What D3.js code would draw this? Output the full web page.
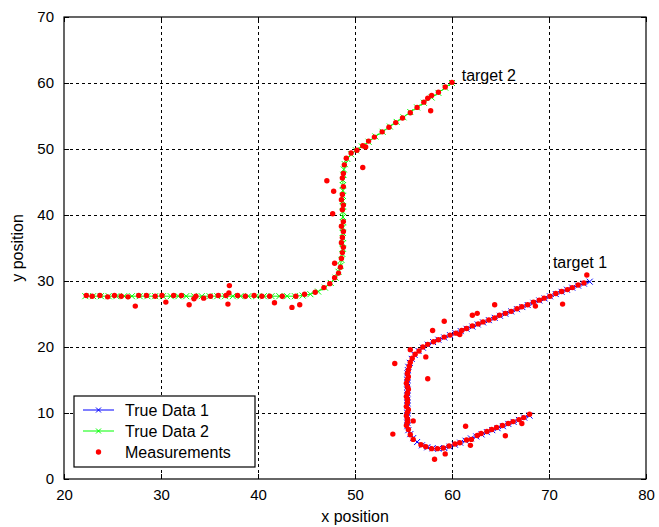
<!DOCTYPE html>
<html>
<head>
<meta charset="utf-8">
<script src="https://cdn.jsdelivr.net/npm/d3@7"></script>
<style>
  html, body { margin: 0; padding: 0; background: #fff; }
  svg text { font-family: "Liberation Sans", Arial, sans-serif; fill: #000; }
</style>
</head>
<body>
<svg id="chart" width="659" height="527"></svg>
<script>
// Axis ticks
const xTicks = [20, 30, 40, 50, 60, 70, 80];
const yTicks = [0, 10, 20, 30, 40, 50, 60, 70];

// Track of target 1 (true positions)
const trueData1 = [
  [68.0,9.6],[67.45,9.3],[66.9,8.95],[66.35,8.65],[65.8,8.35],[65.25,8.0],[64.7,7.7],[64.15,7.4],
  [63.6,7.1],[63.05,6.75],[62.5,6.45],[61.95,6.15],[61.4,5.8],[60.85,5.5],[60.3,5.2],[59.75,4.9],
  [59.2,4.7],[58.6,4.6],[58.0,4.65],[57.45,4.8],[56.9,5.1],[56.4,5.6],[56.0,6.2],[55.7,6.8],[55.5,7.4],
  [55.4,8.0],[55.4,8.5],[55.4,9.0],[55.4,9.5],[55.4,10.0],[55.4,10.5],[55.4,11.0],[55.4,11.5],
  [55.4,12.0],[55.4,12.5],[55.4,13.0],[55.4,13.5],[55.4,14.0],[55.4,14.5],[55.4,15.0],[55.4,15.5],
  [55.4,16.0],[55.45,16.5],[55.5,17.0],
  [55.65,17.6],[55.85,18.2],[56.15,18.8],[56.55,19.4],[57.0,19.9],[57.5,20.35],[58.05,20.75],
  [58.6,21.1],[59.2,21.44],[59.8,21.79],[60.35,22.1],[60.9,22.41],[61.5,22.76],[62.1,23.1],
  [62.65,23.42],[63.2,23.73],[63.8,24.07],[64.4,24.42],[64.95,24.73],[65.5,25.05],[66.1,25.39],
  [66.7,25.73],[67.25,26.05],[67.8,26.36],[68.4,26.7],[69.0,27.05],[69.55,27.36],[70.1,27.68],
  [70.7,28.02],[71.3,28.36],[71.85,28.68],[72.4,28.99],[73.0,29.3],[73.6,29.6],[74.2,29.9]
];

// Track of target 2 (true positions)
const trueData2 = [
  [22.2,27.7],[23.0,27.7],[23.8,27.7],[24.6,27.7],[25.4,27.7],[26.2,27.7],[27.0,27.7],[27.8,27.7],
  [28.6,27.7],[29.4,27.7],[30.2,27.7],[31.0,27.7],[31.8,27.7],[32.6,27.7],[33.4,27.7],[34.2,27.7],
  [35.0,27.7],[35.8,27.7],[36.6,27.7],[37.4,27.7],[38.2,27.7],[39.0,27.7],[39.8,27.7],[40.6,27.7],
  [41.4,27.7],[42.2,27.7],[43.0,27.7],[43.8,27.7],[44.6,27.8],
  [45.4,28.0],[46.2,28.4],[46.9,29.0],[47.5,29.7],[48.0,30.5],[48.3,31.4],[48.5,32.3],[48.6,33.2],[48.7,34.1],
  [48.75,34.9],[48.75,35.7],[48.75,36.5],[48.75,37.3],[48.75,38.1],[48.75,38.9],[48.75,39.7],
  [48.75,40.5],[48.75,41.3],[48.75,42.1],[48.75,42.9],[48.75,43.7],[48.75,44.5],[48.75,45.3],
  [48.8,46.1],[48.85,46.9],[48.95,47.7],
  [49.2,48.5],[49.6,49.2],[50.1,49.8],[50.7,50.4],
  [51.4,51.1],[52.1,51.9],[52.85,52.6],[53.6,53.4],[54.3,54.1],[55.0,54.8],[55.7,55.6],
  [56.4,56.3],[57.1,57.0],[57.9,57.8],[58.6,58.5],[59.3,59.3],[60.0,60.0]
];

// Noisy position measurements of both targets
const measurements1 = [
  [68.0,9.8],[67.4,9.3],[67.2,8.4],[66.9,9.0],[66.3,8.7],[65.8,8.4],[65.5,6.55],[65.2,8.1],
  [64.6,7.8],[64.1,7.5],[63.6,7.2],[63.0,6.9],[62.6,6.6],[62.0,6.0],[61.9,5.1],[61.4,8.0],
  [61.5,5.9],[60.8,5.5],[60.3,5.3],[59.7,5.0],[59.3,3.8],[59.1,4.7],[58.5,4.6],[58.2,3.0],
  [57.9,4.6],[57.3,4.9],[56.8,5.2],[56.0,6.0],[56.0,8.8],[55.7,6.7],[53.9,6.8],[55.5,7.5],
  [55.3,8.1],[55.4,8.6],[55.4,9.1],[55.3,9.6],[55.4,10.1],[55.5,10.5],[55.3,11.0],[55.4,11.6],
  [55.4,12.1],[55.3,12.5],[55.4,13.0],[55.5,13.6],[55.4,14.0],[55.3,14.5],[55.4,15.1],[57.5,15.2],
  [55.5,15.5],[55.4,16.0],[55.5,16.5],[54.1,17.5],[55.6,17.1],[55.7,17.7],[55.9,18.3],[57.3,18.5],
  [56.2,18.9],[55.7,19.6],[56.6,19.4],[57.0,20.0],[57.5,20.4],[58.0,22.5],[58.1,20.8],[58.6,21.1],
  [59.2,23.9],[59.2,21.5],[59.8,21.8],[60.4,22.1],[60.8,21.9],[61.0,22.5],[61.5,22.8],[62.1,24.8],
  [62.6,25.1],[62.1,23.2],[62.7,23.5],[63.2,23.8],[63.8,24.1],[64.4,26.4],[64.4,24.4],[64.9,24.8],
  [65.5,25.1],[66.1,25.4],[66.7,25.8],[67.2,26.1],[67.8,26.4],[68.6,26.2],[68.4,26.8],[69.0,27.1],
  [69.5,27.4],[70.1,27.7],[70.7,28.1],[71.4,26.5],[71.3,28.4],[71.9,28.7],[72.4,29.0],[73.0,29.4],
  [73.6,29.7],[73.9,30.9]
];
const measurements2 = [
  [22.3,27.8],[22.9,27.7],[23.7,27.8],[24.5,27.6],[25.2,27.8],[25.9,27.7],[26.6,27.6],[27.35,26.2],
  [27.7,27.8],[28.5,27.8],[29.4,27.7],[30.1,27.8],[30.5,26.8],[31.3,27.8],[32.1,27.8],[32.9,26.4],
  [33.4,27.3],[33.6,27.7],[34.4,27.4],[35.1,27.7],[35.9,27.8],[36.7,27.8],[36.9,26.5],[37.0,28.2],
  [37.05,29.3],[37.9,27.8],[38.7,27.7],[39.6,27.8],[40.4,27.7],[41.2,27.7],[41.7,26.7],[42.5,27.7],
  [43.5,26.0],[43.9,27.7],[44.3,26.4],[44.8,28.0],[45.9,28.3],[46.8,29.0],[47.4,29.6],[47.9,30.5],
  [48.3,31.2],[47.9,32.7],[48.5,32.1],[48.6,33.4],[48.7,34.3],[48.8,35.1],[48.6,35.8],[48.7,36.6],
  [48.8,37.5],[48.6,38.3],[48.8,39.0],[47.7,40.2],[48.7,40.8],[48.8,41.5],[48.6,42.3],[48.7,43.1],
  [47.8,43.6],[48.8,44.3],[47.1,45.2],[48.7,45.6],[48.8,46.3],[50.8,47.2],[48.9,47.6],[49.1,48.6],
  [49.6,49.4],[50.2,49.8],[50.8,50.5],[51.1,50.3],[51.4,51.2],[52.0,51.8],[52.8,52.6],[53.5,53.3],
  [54.2,54.0],[54.9,54.7],[55.7,55.5],[56.4,56.3],[57.1,57.1],[57.8,55.8],[57.5,57.7],[57.9,58.1],
  [58.6,58.6],[59.3,59.4],[60.0,60.1]
];

const legendItems = [
  { label: "True Data 1", color: "#0000ff", kind: "line" },
  { label: "True Data 2", color: "#00ff00", kind: "line" },
  { label: "Measurements", color: "#ff0000", kind: "dot" }
];
// Text annotations placed in data coordinates (left/baseline)
const targetLabels = [
  { text: "target 2", at: [61.0, 60.3] },
  { text: "target 1", at: [70.4, 32.0] }
];

const margin = { left: 64, right: 13, top: 17, bottom: 48 };
const W = 659, H = 527;
const svg = d3.select("#chart");

const x = d3.scaleLinear().domain([20, 80]).range([margin.left, W - margin.right]);
const y = d3.scaleLinear().domain([0, 70]).range([H - margin.bottom, margin.top]);
const x0 = x.range()[0], x1 = x.range()[1], y0 = y.range()[0], y1 = y.range()[1];

svg.append("rect").attr("width", W).attr("height", H).attr("fill", "#fff");

// Dotted grid
const grid = svg.append("g").attr("stroke", "#000").attr("stroke-width", 1)
  .attr("stroke-dasharray", "3,3").attr("shape-rendering", "crispEdges");
grid.selectAll(".gx").data(xTicks.slice(1, -1)).join("line")
  .attr("x1", d => Math.round(x(d)) + 0.5).attr("x2", d => Math.round(x(d)) + 0.5)
  .attr("y1", y0).attr("y2", y1);
grid.selectAll(".gy").data(yTicks.slice(1, -1)).join("line")
  .attr("y1", d => Math.round(y(d)) + 0.5).attr("y2", d => Math.round(y(d)) + 0.5)
  .attr("x1", x0).attr("x2", x1);

// Axes with inward ticks on all four sides
const tickLen = 5;
const fontSize = 15;
const axB = svg.append("g").attr("transform", `translate(0,${y0})`)
  .call(d3.axisBottom(x).tickValues(xTicks).tickSizeInner(-tickLen).tickSizeOuter(0).tickPadding(10));
const axT = svg.append("g").attr("transform", `translate(0,${y1})`)
  .call(d3.axisTop(x).tickValues(xTicks).tickSizeInner(-tickLen).tickSizeOuter(0).tickFormat(""));
const axL = svg.append("g").attr("transform", `translate(${x0},0)`)
  .call(d3.axisLeft(y).tickValues(yTicks).tickSizeInner(-tickLen).tickSizeOuter(0).tickPadding(10));
const axR = svg.append("g").attr("transform", `translate(${x1},0)`)
  .call(d3.axisRight(y).tickValues(yTicks).tickSizeInner(-tickLen).tickSizeOuter(0).tickFormat(""));
[axB, axT, axL, axR].forEach(a => {
  a.select(".domain").remove();
  a.selectAll("line").attr("stroke", "#000");
  a.selectAll("text").attr("font-size", fontSize)
    .attr("font-family", "'Liberation Sans', Arial, sans-serif").attr("fill", "#000");
});
svg.append("rect").attr("x", x0).attr("y", y1).attr("width", x1 - x0).attr("height", y0 - y1)
  .attr("fill", "none").attr("stroke", "#000").attr("stroke-width", 1.2);

// Axis titles
svg.append("text").attr("x", (x0 + x1) / 2).attr("y", 522).attr("text-anchor", "middle")
  .attr("font-size", 16).text("x position");
svg.append("text").attr("transform", `translate(23,${(y0 + y1) / 2}) rotate(-90)`)
  .attr("text-anchor", "middle").attr("font-size", 16).text("y position");

// True tracks: line with x markers
const line = d3.line().x(d => x(d[0])).y(d => y(d[1]));
function drawTrack(data, color) {
  const g = svg.append("g");
  g.append("path").datum(data).attr("d", line).attr("fill", "none")
    .attr("stroke", color).attr("stroke-width", 1);
  const m = 3;
  g.selectAll("path.mk").data(data).join("path").attr("class", "mk")
    .attr("d", d => {
      const px = x(d[0]), py = y(d[1]);
      return `M${px - m},${py - m}L${px + m},${py + m}M${px - m},${py + m}L${px + m},${py - m}`;
    })
    .attr("stroke", color).attr("stroke-width", 1).attr("fill", "none");
}
drawTrack(trueData1, "#0000ff");
drawTrack(trueData2, "#00ff00");

// Measurements
svg.append("g").selectAll("circle").data(measurements1.concat(measurements2)).join("circle")
  .attr("cx", d => x(d[0])).attr("cy", d => y(d[1])).attr("r", 2.7).attr("fill", "#ff0000");

// Target labels
svg.selectAll("text.tl").data(targetLabels).join("text").attr("class", "tl")
  .attr("x", d => x(d.at[0])).attr("y", d => y(d.at[1]))
  .attr("font-size", 16).text(d => d.text);

// Legend
const lg = svg.append("g").attr("transform", "translate(74,396)");
lg.append("rect").attr("width", 181).attr("height", 71).attr("fill", "#fff")
  .attr("stroke", "#000").attr("stroke-width", 1.2);
const rows = lg.selectAll("g.row").data(legendItems).join("g").attr("class", "row")
  .attr("transform", (d, i) => `translate(0,${14 + i * 21})`);
rows.each(function (d) {
  const r = d3.select(this);
  if (d.kind === "line") {
    r.append("line").attr("x1", 9).attr("x2", 40).attr("y1", 0).attr("y2", 0)
      .attr("stroke", d.color).attr("stroke-width", 1);
    r.append("path").attr("d", "M22,-2.5L27,2.5M22,2.5L27,-2.5").attr("stroke", d.color)
      .attr("stroke-width", 1);
  } else {
    r.append("circle").attr("cx", 24.5).attr("cy", 0).attr("r", 2.7).attr("fill", d.color);
  }
  r.append("text").attr("x", 51).attr("y", 0).attr("dy", "0.35em")
    .attr("font-size", 16).text(d.label);
});
</script>
</body>
</html>
